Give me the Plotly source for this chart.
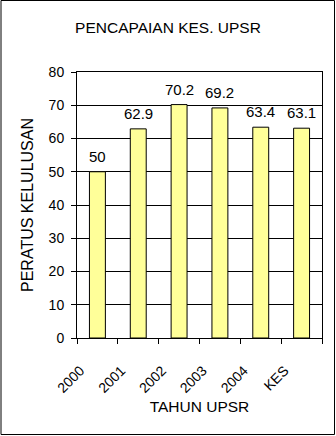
import plotly.graph_objects as go

categories = ["2000", "2001", "2002", "2003", "2004", "KES"]
values = [50, 62.9, 70.2, 69.2, 63.4, 63.1]
y_ticks = [0, 10, 20, 30, 40, 50, 60, 70, 80]

title_text = "PENCAPAIAN KES. UPSR"
x_title = "TAHUN UPSR"
y_title = "PERATUS KELULUSAN"

FONT = "Liberation Sans, Arial, sans-serif"
W, H = 336, 436
ML, MR, MT, MB = 77, 14, 72, 98

fig = go.Figure()
fig.add_trace(go.Bar(
    x=categories, y=values, width=0.39,
    marker=dict(color="#FFFF99", line=dict(color="black", width=1)),
    hoverinfo="skip",
))

# data labels: category axis position given by index
for i, v in enumerate(values):
    fig.add_annotation(x=i, y=v, text=f"{v:g}", showarrow=False,
                       yanchor="bottom", yshift=5,
                       font=dict(family=FONT, size=15, color="black"))

pw = W - ML - MR
ph = H - MT - MB
fig.add_shape(type="rect", xref="paper", yref="paper",
              x0=(1 - ML) / pw, x1=(W - 1.5 - ML) / pw,
              y0=-(H - 1.5 - (H - MB)) / ph,
              y1=(H - MB - 0.5) / ph,
              line=dict(color="black", width=1), layer="above")

fig.update_layout(
    width=W, height=H,
    margin=dict(l=ML, r=MR, t=MT, b=MB, pad=0),
    paper_bgcolor="white", plot_bgcolor="white",
    showlegend=False,
    font=dict(family=FONT, size=14, color="black"),
    title=dict(text=title_text, x=0.5, xref="container", xanchor="center",
               y=1 - 27.5 / H, yref="container", yanchor="middle",
               font=dict(family=FONT, size=15.5, color="black")),
)
fig.update_xaxes(
    type="category", range=[-0.5, 5.5], tickangle=-45, showline=True,
    linecolor="black", linewidth=1, mirror=True, ticks="outside",
    tickson="boundaries", ticklen=5, tickcolor="black", showgrid=False,
    ticklabelstandoff=18, ticklabelshift=-17,
    title=dict(text=x_title, font=dict(family=FONT, size=15.5), standoff=6),
    tickfont=dict(family=FONT, size=14),
)
fig.update_yaxes(
    range=[0, 80], tickvals=y_ticks, showline=True, linecolor="black",
    linewidth=1, mirror=True, ticks="outside", ticklen=5, tickcolor="black",
    showgrid=True, gridcolor="black", gridwidth=1, zeroline=False,
    ticklabelstandoff=4,
    title=dict(text=y_title, font=dict(family=FONT, size=16), standoff=11),
    tickfont=dict(family=FONT, size=14),
)

fig.write_html("out.html")
